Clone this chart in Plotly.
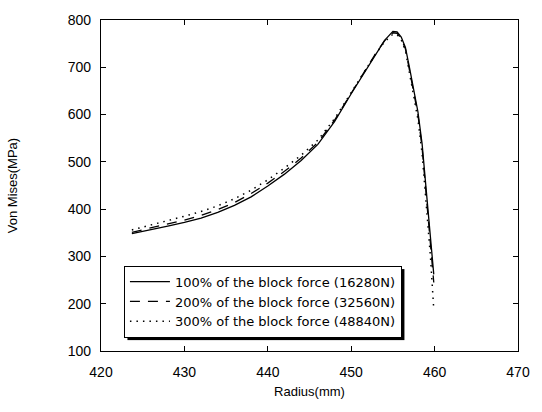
import plotly.graph_objects as go

radius = [423.7, 426, 428, 430, 432, 434, 436, 438, 440, 442, 444, 446, 448, 450, 451, 452, 453, 454, 455, 455.5, 456, 456.5, 457, 457.5, 458, 458.5, 459, 459.5, 459.9]
stress_100 = [348, 356, 364, 372, 381, 393, 408, 426, 449, 474, 503, 537, 585, 644, 673, 702, 731, 757, 776, 775, 764, 742, 698, 652, 606, 538, 436, 328, 262]
stress_200 = [351, 360, 368, 377, 387, 399, 414, 433, 455, 480, 508, 541, 588, 646, 674, 703, 731, 756, 773, 772, 761, 739, 694, 648, 600, 530, 428, 320, 245]
stress_300 = [356, 366, 375, 385, 395, 407, 422, 440, 462, 487, 514, 546, 591, 647, 675, 703, 730, 754, 770, 769, 758, 735, 688, 640, 590, 518, 412, 300, 188]
labels = ["100% of the block force (16280N)",
          "200% of the block force (32560N)",
          "300% of the block force (48840N)"]
x_ticks = [420, 430, 440, 450, 460, 470]
y_ticks = [100, 200, 300, 400, 500, 600, 700, 800]

FONT = "Liberation Sans, Arial, sans-serif"
LEG_FONT = "DejaVu Sans, sans-serif"

fig = go.Figure()
series = [(stress_100, "solid", 1.3), (stress_200, "10px,8px", 1.3), (stress_300, "1.5px,5px", 1.5)]
for (vals, dash, w), name in zip(series, labels):
    fig.add_trace(go.Scatter(x=radius, y=vals, mode="lines", name=name,
                             line=dict(color="black", width=w, dash=dash)))

axis_common = dict(showline=True, linecolor="black", linewidth=1.3, mirror="ticks",
                   ticks="inside", ticklen=5, tickwidth=1.2, tickcolor="black",
                   showgrid=False, zeroline=False, ticklabeloverflow="allow",
                   tickfont=dict(family=FONT, size=14, color="black"))

fig.update_xaxes(range=[420, 470], tickvals=x_ticks, ticklabelstandoff=8,
                 title=dict(text="Radius(mm)", font=dict(family=FONT, size=13, color="black"), standoff=7),
                 **axis_common)
fig.update_yaxes(range=[100, 800], tickvals=y_ticks, ticklabelstandoff=6,
                 title=dict(text="Von Mises(MPa)", font=dict(family=FONT, size=13, color="black"), standoff=47),
                 **axis_common)

fig.update_layout(
    width=542, height=412,
    margin=dict(l=91, r=14, t=14, b=61),
    paper_bgcolor="white", plot_bgcolor="white",
    font=dict(family=FONT, color="black"),
    legend=dict(x=0.055, y=0.258, xanchor="left", yanchor="top",
                bgcolor="white", bordercolor="black", borderwidth=1,
                font=dict(family=LEG_FONT, size=13, color="black"),
                itemwidth=40, tracegroupgap=0),
)

post_js = """
document.body.style.margin='0';
document.documentElement.style.overflow='hidden';
var gd = document.getElementById('{plot_id}');
function addLegendShadow(){
  var leg = gd.querySelector('g.infolayer g.legend') || gd.querySelector('g.legend');
  if(!leg) return false;
  var bg = leg.querySelector('rect.bg');
  if(!bg) return false;
  var svg = leg.ownerSVGElement;
  var old = svg.querySelector('rect.legshadow');
  if(old) old.parentNode.removeChild(old);
  var box = bg.getBoundingClientRect();
  var sbox = svg.getBoundingClientRect();
  var r = document.createElementNS('http://www.w3.org/2000/svg', 'rect');
  r.setAttribute('class', 'legshadow');
  r.setAttribute('x', box.left - sbox.left + 3);
  r.setAttribute('y', box.top - sbox.top + 3);
  r.setAttribute('width', box.width);
  r.setAttribute('height', box.height);
  r.style.fill = '#000';
  leg.parentNode.insertBefore(r, leg);
  return true;
}
addLegendShadow();
[0, 100, 400, 1000].forEach(function(t){ setTimeout(addLegendShadow, t); });
if(gd.on) gd.on('plotly_afterplot', addLegendShadow);
"""

fig.write_html("out.html", config={"displayModeBar": False}, post_script=post_js)
